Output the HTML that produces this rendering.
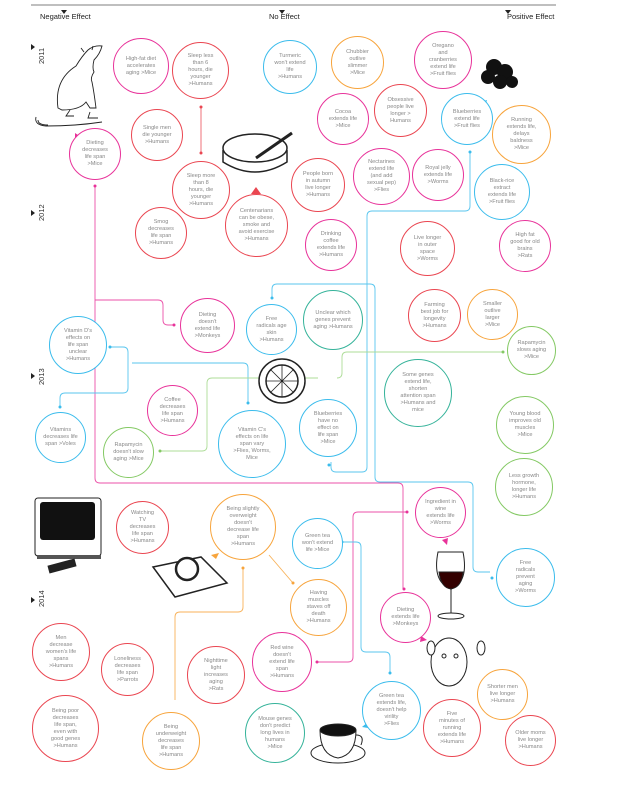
<!DOCTYPE html>
<html><head><meta charset="utf-8"><style>
html,body{margin:0;padding:0;background:#fff}
#w{position:relative;width:623px;height:789px;overflow:hidden;font-family:"Liberation Sans",sans-serif}
.c{position:absolute;border-radius:50%;border:1.6px solid;box-sizing:border-box;display:flex;align-items:center;justify-content:center;text-align:center;font-size:5.6px;line-height:7px;color:#888;background:#fff}
.r{border-color:#ea4651}.p{border-color:#e8339a}.b{border-color:#3bbcec}.o{border-color:#f7a43c}.g{border-color:#84c964}.t{border-color:#35b39a}
.h{position:absolute;top:12px;font-size:7.5px;color:#222}
.yr{position:absolute;font-size:7.5px;color:#333;transform:rotate(-90deg);transform-origin:left top}
svg{position:absolute;left:0;top:0}
</style></head><body><div id="w">
<svg width="623" height="789">
<line x1="31" y1="5" x2="556" y2="5" stroke="#999" stroke-width="1.2"/>
<path d="M61 10h6l-3 4z M279 10h6l-3 4z M505 10h6l-3 4z" fill="#222"/>
<path d="M31 44l4 3l-4 3z M31 210l4 3l-4 3z M31 373l4 3l-4 3z M31 597l4 3l-4 3z" fill="#222"/>
<g fill="none" stroke-width="0.9" opacity="0.85">
<path d="M201 107v46" stroke="#ea4651"/>
<path d="M95 186v292q0 5 5 5h298q5 0 5 5v101" stroke="#e8339a"/>
<path d="M95 300h63q5 0 5 5v15q0 5 5 5h6" stroke="#e8339a"/>
<path d="M407 512h-49q-5 0-5 5v140q0 5-5 5h-31" stroke="#e8339a"/>
<path d="M470 152v54q0 5-5 5h-93q-5 0-5 5v251q0 5-5 5h-26q-5 0-5-5v-5" stroke="#3bbcec"/>
<path d="M272 298v-9q0-5 5-5h93q5 0 5 5v188q0 5 5 5h88q5 0 5 5v80q0 5 5 5h12" stroke="#3bbcec"/>
<path d="M110 347h13q5 0 5 5v36q0 5-5 5h-58q-5 0-5 5v9" stroke="#3bbcec"/>
<path d="M132 363h111q5 0 5 5v35" stroke="#3bbcec"/>
<path d="M160 451h42q5 0 5-5v-63q0-5 5-5h106" stroke="#9fd686"/>
<path d="M337 378q5 0 5-5v-16q0-5 5-5h156" stroke="#9fd686"/>
<path d="M243 568v39q0 5-5 5h-58q-5 0-5 5v83" stroke="#f7a43c"/>
<path d="M293 583l-24-28" stroke="#f7a43c"/>
<path d="M342 542h14q5 0 5 5v100q0 5 5 5h19q5 0 5 5v16" stroke="#3bbcec"/>
</g>
<g fill="#e8339a"><circle cx="95" cy="186" r="1.5"/><circle cx="174" cy="325" r="1.5"/><circle cx="407" cy="512" r="1.5"/><circle cx="404" cy="589" r="1.5"/><circle cx="317" cy="662" r="1.5"/></g>
<g fill="#3bbcec"><circle cx="470" cy="152" r="1.5"/><circle cx="329" cy="465" r="1.5"/><circle cx="272" cy="298" r="1.5"/><circle cx="492" cy="578" r="1.5"/><circle cx="110" cy="347" r="1.5"/><circle cx="60" cy="407" r="1.5"/><circle cx="248" cy="403" r="1.5"/><circle cx="342" cy="542" r="1.5"/><circle cx="390" cy="673" r="1.5"/></g>
<g fill="#84c964"><circle cx="160" cy="451" r="1.5"/><circle cx="503" cy="352" r="1.5"/></g>
<g fill="#f7a43c"><circle cx="243" cy="568" r="1.5"/><circle cx="293" cy="583" r="1.5"/></g>
<g fill="#ea4651"><circle cx="201" cy="107" r="1.5"/><circle cx="201" cy="153" r="1.5"/></g>
<path d="M75 133l6 4l-6 3z" fill="#e8339a"/>
<path d="M251 194h10l-5-7z" fill="#ea4651"/>
<path d="M487 100l-7 2l5 5z" fill="#3bbcec"/>
<path d="M116 527l6-4v8z" fill="#ea4651"/>
<path d="M211 555l8-2l-3 6z" fill="#f7a43c"/>
<path d="M448 538l-6 2l5 5z" fill="#e8339a"/>
<path d="M427 640l-6-4l-1 6z" fill="#e8339a"/>
<path d="M362 727l6-5v6z" fill="#3bbcec"/>
<!-- rat -->
<g stroke="#222" fill="none" stroke-width="0.9"><path d="M58 108q-4-28 18-42q6-10 12-16q6-5 14-4q-2 8-8 14q-2 8 0 12q-4 6-2 10q2 10 4 26h-6l-4-6q-6 8-24 8z"/><path d="M84 52l-3-4M92 50l1-4"/><path d="M36 117q-2 8 10 9q30 0 56-4"/><path d="M38 120q0 5 10 5"/><path d="M70 110l-4 6h8M90 112l-2 6h10"/></g>
<!-- ashtray -->
<g stroke="#222" fill="none" stroke-width="1.5"><ellipse cx="255" cy="148" rx="32" ry="14"/><path d="M223 150v12q32 20 64 0v-12"/><line x1="256" y1="158" x2="292" y2="133" stroke-width="3"/></g>
<!-- blueberries -->
<g fill="#111"><circle cx="494" cy="67" r="8"/><circle cx="505" cy="72" r="8"/><circle cx="488" cy="77" r="7"/><circle cx="500" cy="82" r="7"/><circle cx="512" cy="82" r="6"/></g>
<!-- lemon -->
<g stroke="#222" fill="#fff" stroke-width="1.5"><ellipse cx="282" cy="381" rx="23" ry="22"/><circle cx="282" cy="381" r="16" fill="none"/><path d="M266 381h32M282 365v32M271 370l22 22M293 370l-22 22" stroke-width="0.8"/></g>
<!-- TV -->
<g><rect x="35" y="498" width="66" height="58" rx="3" fill="#fff" stroke="#222"/><rect x="40" y="502" width="55" height="38" rx="3" fill="#111"/><rect x="37" y="555" width="64" height="4" fill="#555"/><rect x="48" y="562" width="28" height="8" fill="#222" transform="rotate(-15 62 566)"/></g>
<!-- scale -->
<g stroke="#222" stroke-width="1.5"><path d="M153 567l48-10l26 26l-52 14z" fill="#fff"/><circle cx="187" cy="569" r="11" fill="#fff" stroke-width="2.5"/></g>
<!-- wine -->
<g stroke="#222" fill="none"><path d="M438 552q-6 30 13 37q18-7 12-37z"/><path d="M439 572q2 16 12 17q11-2 12-17z" fill="#300"/><line x1="451" y1="589" x2="451" y2="613"/><ellipse cx="451" cy="616" rx="13" ry="3"/></g>
<!-- monkey -->
<g stroke="#222" fill="#fff"><ellipse cx="449" cy="662" rx="18" ry="24"/><ellipse cx="431" cy="648" rx="4" ry="7"/><ellipse cx="481" cy="648" rx="4" ry="7"/><circle cx="444" cy="656" r="2"/><circle cx="456" cy="656" r="2"/></g>
<!-- cup -->
<g stroke="#222" fill="#fff"><ellipse cx="338" cy="753" rx="27" ry="10"/><path d="M320 730q0 25 18 28q18-3 18-28z"/><ellipse cx="338" cy="730" rx="18" ry="6" fill="#111"/><path d="M356 735q9 0 5 10"/></g>
</svg>
<div class="h" style="left:40px">Negative Effect</div>
<div class="h" style="left:269px">No Effect</div>
<div class="h" style="left:507px">Positive Effect</div>
<div class="yr" style="left:37px;top:64px">2011</div>
<div class="yr" style="left:37px;top:221px">2012</div>
<div class="yr" style="left:37px;top:385px">2013</div>
<div class="yr" style="left:37px;top:607px">2014</div>

<div class="c p" style="left:113px;top:38px;width:56px;height:56px">High-fat diet<br>accelerates<br>aging &gt;Mice</div>
<div class="c r" style="left:172px;top:42px;width:57px;height:57px">Sleep less<br>than 6<br>hours, die<br>younger<br>&gt;Humans</div>
<div class="c b" style="left:263px;top:40px;width:54px;height:54px">Turmeric<br>won't extend<br>life<br>&gt;Humans</div>
<div class="c o" style="left:331px;top:36px;width:53px;height:53px">Chubbier<br>outlive<br>slimmer<br>&gt;Mice</div>
<div class="c p" style="left:414px;top:31px;width:58px;height:58px">Oregano<br>and<br>cranberries<br>extend life<br>&gt;Fruit flies</div>
<div class="c p" style="left:69px;top:128px;width:52px;height:52px">Dieting<br>decreases<br>life span<br>&gt;Mice</div>
<div class="c r" style="left:131px;top:109px;width:52px;height:52px">Single men<br>die younger<br>&gt;Humans</div>
<div class="c r" style="left:172px;top:161px;width:58px;height:58px">Sleep more<br>than 8<br>hours, die<br>younger<br>&gt;Humans</div>
<div class="c r" style="left:225px;top:194px;width:63px;height:63px">Centenarians<br>can be obese,<br>smoke and<br>avoid exercise<br>&gt;Humans</div>
<div class="c r" style="left:135px;top:207px;width:52px;height:52px">Smog<br>decreases<br>life span<br>&gt;Humans</div>
<div class="c p" style="left:317px;top:93px;width:52px;height:52px">Cocoa<br>extends life<br>&gt;Mice</div>
<div class="c r" style="left:374px;top:84px;width:53px;height:53px">Obsessive<br>people live<br>longer &gt;<br>Humans</div>
<div class="c b" style="left:441px;top:93px;width:52px;height:52px">Blueberries<br>extend life<br>&gt;Fruit flies</div>
<div class="c o" style="left:492px;top:105px;width:59px;height:59px">Running<br>extends life,<br>delays<br>baldness<br>&gt;Mice</div>
<div class="c r" style="left:291px;top:158px;width:54px;height:54px">People born<br>in autumn<br>live longer<br>&gt;Humans</div>
<div class="c p" style="left:353px;top:148px;width:57px;height:57px">Nectarines<br>extend life<br>(and add<br>sexual pep)<br>&gt;Flies</div>
<div class="c p" style="left:412px;top:149px;width:52px;height:52px">Royal jelly<br>extends life<br>&gt;Worms</div>
<div class="c b" style="left:474px;top:164px;width:56px;height:56px">Black-rice<br>extract<br>extends life<br>&gt;Fruit flies</div>
<div class="c p" style="left:305px;top:219px;width:52px;height:52px">Drinking<br>coffee<br>extends life<br>&gt;Humans</div>
<div class="c r" style="left:400px;top:221px;width:55px;height:55px">Live longer<br>in outer<br>space<br>&gt;Worms</div>
<div class="c p" style="left:499px;top:220px;width:52px;height:52px">High fat<br>good for old<br>brains<br>&gt;Rats</div>
<div class="c p" style="left:180px;top:298px;width:55px;height:55px">Dieting<br>doesn't<br>extend life<br>&gt;Monkeys</div>
<div class="c b" style="left:246px;top:304px;width:51px;height:51px">Free<br>radicals age<br>skin<br>&gt;Humans</div>
<div class="c t" style="left:303px;top:290px;width:60px;height:60px">Unclear which<br>genes prevent<br>aging &gt;Humans</div>
<div class="c b" style="left:49px;top:316px;width:58px;height:58px">Vitamin D's<br>effects on<br>life span<br>unclear<br>&gt;Humans</div>
<div class="c r" style="left:408px;top:289px;width:53px;height:53px">Farming<br>best job for<br>longevity<br>&gt;Humans</div>
<div class="c o" style="left:467px;top:289px;width:51px;height:51px">Smaller<br>outlive<br>larger<br>&gt;Mice</div>
<div class="c g" style="left:507px;top:326px;width:49px;height:49px">Rapamycin<br>slows aging<br>&gt;Mice</div>
<div class="c t" style="left:384px;top:359px;width:68px;height:68px">Some genes<br>extend life,<br>shorten<br>attention span<br>&gt;Humans and<br>mice</div>
<div class="c p" style="left:147px;top:385px;width:51px;height:51px">Coffee<br>decreases<br>life span<br>&gt;Humans</div>
<div class="c b" style="left:35px;top:412px;width:51px;height:51px">Vitamins<br>decreases life<br>span &gt;Voles</div>
<div class="c g" style="left:103px;top:427px;width:51px;height:51px">Rapamycin<br>doesn't slow<br>aging &gt;Mice</div>
<div class="c b" style="left:218px;top:410px;width:68px;height:68px">Vitamin C's<br>effects on life<br>span vary<br>&gt;Flies, Worms,<br>Mice</div>
<div class="c b" style="left:299px;top:399px;width:58px;height:58px">Blueberries<br>have no<br>effect on<br>life span<br>&gt;Mice</div>
<div class="c g" style="left:496px;top:396px;width:58px;height:58px">Young blood<br>improves old<br>muscles<br>&gt;Mice</div>
<div class="c g" style="left:495px;top:458px;width:58px;height:58px">Less growth<br>hormone,<br>longer life<br>&gt;Humans</div>
<div class="c r" style="left:116px;top:501px;width:53px;height:53px">Watching<br>TV<br>decreases<br>life span<br>&gt;Humans</div>
<div class="c o" style="left:210px;top:494px;width:66px;height:66px">Being slightly<br>overweight<br>doesn't<br>decrease life<br>span<br>&gt;Humans</div>
<div class="c b" style="left:292px;top:518px;width:51px;height:51px">Green tea<br>won't extend<br>life &gt;Mice</div>
<div class="c p" style="left:415px;top:487px;width:51px;height:51px">Ingredient in<br>wine<br>extends life<br>&gt;Worms</div>
<div class="c o" style="left:290px;top:579px;width:57px;height:57px">Having<br>muscles<br>staves off<br>death<br>&gt;Humans</div>
<div class="c b" style="left:496px;top:548px;width:59px;height:59px">Free<br>radicals<br>prevent<br>aging<br>&gt;Worms</div>
<div class="c p" style="left:380px;top:592px;width:51px;height:51px">Dieting<br>extends life<br>&gt;Monkeys</div>
<div class="c r" style="left:32px;top:623px;width:58px;height:58px">Men<br>decrease<br>women's life<br>spans<br>&gt;Humans</div>
<div class="c r" style="left:101px;top:643px;width:53px;height:53px">Loneliness<br>decreases<br>life span<br>&gt;Parrots</div>
<div class="c r" style="left:187px;top:646px;width:58px;height:58px">Nighttime<br>light<br>increases<br>aging<br>&gt;Rats</div>
<div class="c p" style="left:252px;top:632px;width:60px;height:60px">Red wine<br>doesn't<br>extend life<br>span<br>&gt;Humans</div>
<div class="c o" style="left:477px;top:669px;width:51px;height:51px">Shorter men<br>live longer<br>&gt;Humans</div>
<div class="c b" style="left:362px;top:681px;width:59px;height:59px">Green tea<br>extends life,<br>doesn't help<br>virility<br>&gt;Flies</div>
<div class="c r" style="left:32px;top:695px;width:67px;height:67px">Being poor<br>decreases<br>life span,<br>even with<br>good genes<br>&gt;Humans</div>
<div class="c o" style="left:142px;top:712px;width:58px;height:58px">Being<br>underweight<br>decreases<br>life span<br>&gt;Humans</div>
<div class="c t" style="left:245px;top:703px;width:60px;height:60px">Mouse genes<br>don't predict<br>long lives in<br>humans<br>&gt;Mice</div>
<div class="c r" style="left:423px;top:699px;width:58px;height:58px">Five<br>minutes of<br>running<br>extends life<br>&gt;Humans</div>
<div class="c r" style="left:505px;top:715px;width:51px;height:51px">Older moms<br>live longer<br>&gt;Humans</div>
</div></body></html>
